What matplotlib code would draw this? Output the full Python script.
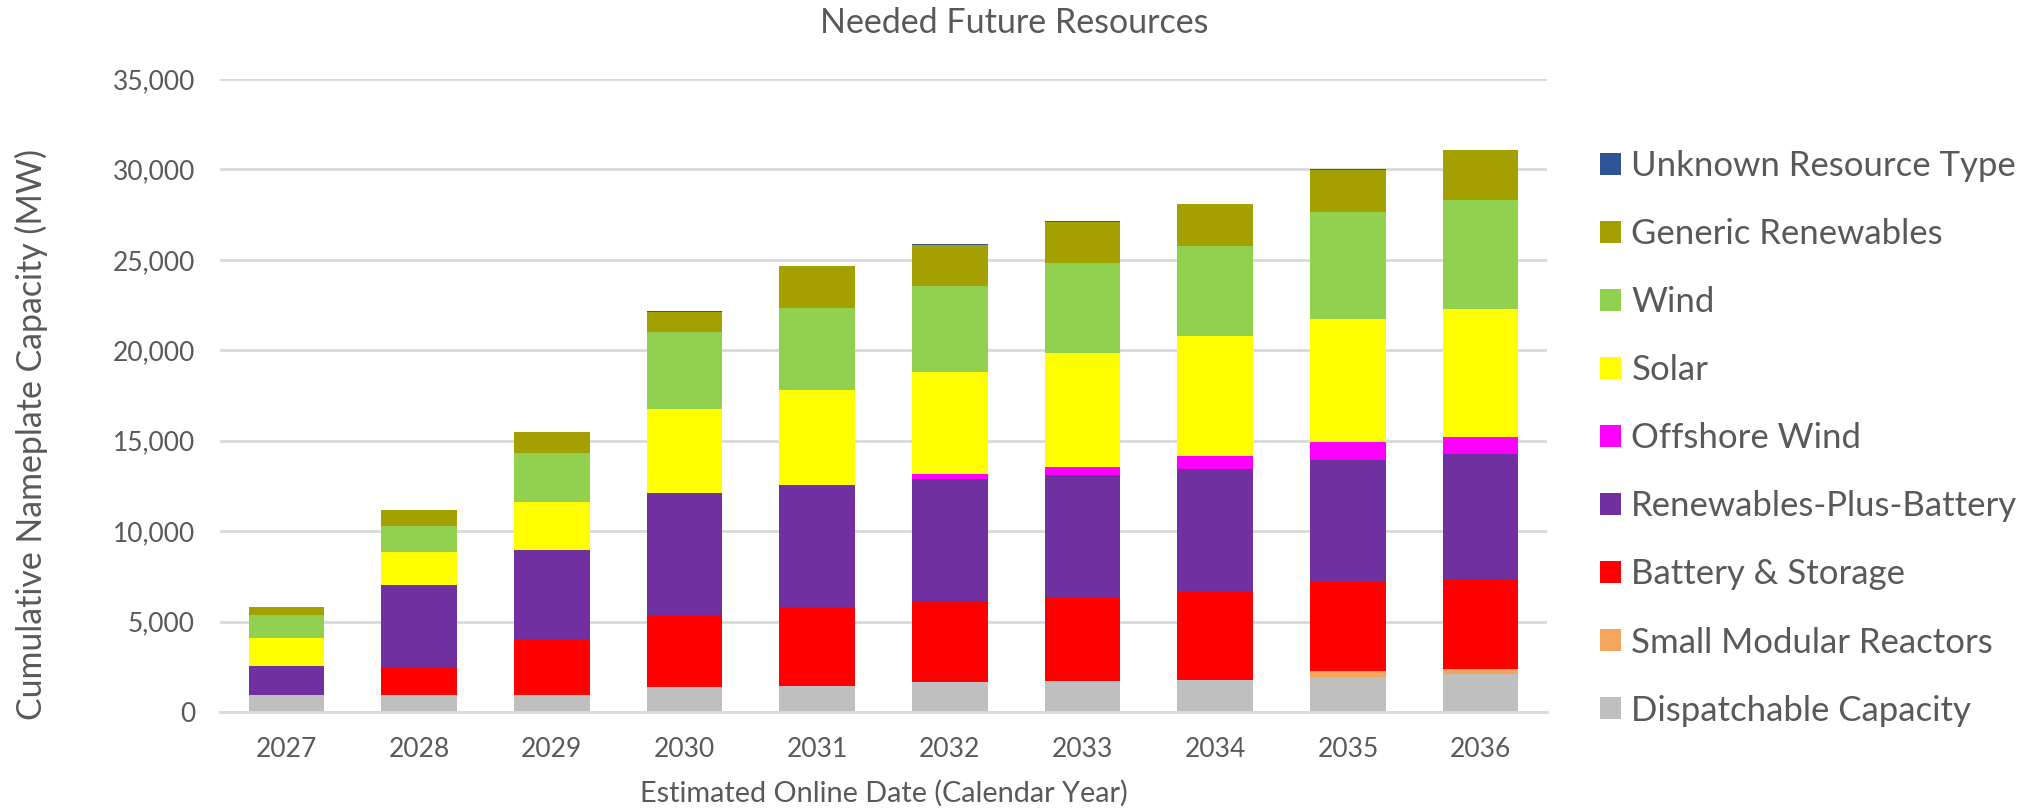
import matplotlib
matplotlib.use("Agg")
import matplotlib.pyplot as plt
from matplotlib.ticker import FuncFormatter
import numpy as np

# Values (MW, per year, stacked bottom -> top)
years = ['2027', '2028', '2029', '2030', '2031', '2032', '2033', '2034', '2035', '2036']
dispatchable = [950, 950, 950, 1380, 1420, 1650, 1690, 1780, 1920, 2080]
smr = [0, 0, 0, 0, 0, 0, 0, 0, 340, 290]
battery = [0, 1560, 3070, 3970, 4380, 4490, 4650, 4900, 4920, 5010]
renew_plus_batt = [1620, 4530, 4960, 6750, 6750, 6750, 6780, 6750, 6770, 6860]
offshore = [0, 0, 0, 0, 0, 250, 450, 750, 970, 970]
solar = [1540, 1810, 2620, 4650, 5240, 5660, 6290, 6610, 6800, 7070]
wind = [1240, 1420, 2710, 4270, 4540, 4740, 4970, 4970, 5930, 6030]
generic = [450, 880, 1180, 1100, 2320, 2280, 2280, 2300, 2300, 2750]
unknown = [0, 0, 0, 30, 30, 30, 30, 30, 50, 30]

series = [
    ('Dispatchable Capacity', dispatchable, '#BFBFBF'),
    ('Small Modular Reactors', smr, '#F4A65F'),
    ('Battery & Storage', battery, '#FF0000'),
    ('Renewables-Plus-Battery', renew_plus_batt, '#7030A0'),
    ('Offshore Wind', offshore, '#FF00FF'),
    ('Solar', solar, '#FFFF00'),
    ('Wind', wind, '#92D050'),
    ('Generic Renewables', generic, '#A4A000'),
    ('Unknown Resource Type', unknown, '#2F5597'),
]

text_color = '#595959'
grid_color = '#D9D9D9'
plt.rcParams['font.family'] = ['Lato', 'DejaVu Sans']

fig = plt.figure(figsize=(20.28, 8.10), dpi=100)
ax = fig.add_axes([0.1085, 0.121, 0.6543, 0.7815])

x = np.arange(len(years))
bottom = np.zeros(len(years))
handles = []
for name, vals, color in series:
    b = ax.bar(x, vals, 0.57, bottom=bottom, color=color, label=name, zorder=3)
    handles.append(b)
    bottom += np.array(vals)

ax.set_xlim(-0.5, len(years) - 0.5)
ax.set_ylim(0, 35000)
ax.set_yticks(np.arange(0, 35001, 5000))
ax.yaxis.set_major_formatter(FuncFormatter(lambda v, p: f'{int(v):,}'))
ax.set_xticks(x)
ax.set_xticklabels(years)

ax.grid(axis='y', color=grid_color, linewidth=2, zorder=0)
for s in ['top', 'right', 'left']:
    ax.spines[s].set_visible(False)
ax.spines['bottom'].set_color(grid_color)
ax.spines['bottom'].set_linewidth(2)
ax.spines['bottom'].set_zorder(4)
ax.tick_params(axis='both', length=0, colors=text_color, labelsize=19)
ax.tick_params(axis='y', pad=18)
ax.tick_params(axis='x', pad=18)

# title is centred on the whole figure in the reference
fig.text(0.5, 0.972, 'Needed Future Resources', fontsize=24.5, color=text_color,
         ha='center', va='center')
ax.set_xlabel('Estimated Online Date (Calendar Year)', fontsize=20.8, color=text_color)
ax.xaxis.set_label_coords(0.5, -0.142)
ax.xaxis.label.set_verticalalignment('baseline')
ax.set_ylabel('Cumulative Nameplate Capacity (MW)', fontsize=24.4, color=text_color)
ax.yaxis.set_label_coords(-0.13, 0.439)

leg = ax.legend(handles[::-1], [s[0] for s in series][::-1],
                loc='center left', bbox_to_anchor=(0.789, 0.459),
                bbox_transform=fig.transFigure, frameon=False, fontsize=25,
                handlelength=0.6, handleheight=0.6, handletextpad=0.3,
                labelspacing=1.04, borderpad=0, borderaxespad=0)
for t in leg.get_texts():
    t.set_color(text_color)

fig.savefig('out.png', dpi=100)
